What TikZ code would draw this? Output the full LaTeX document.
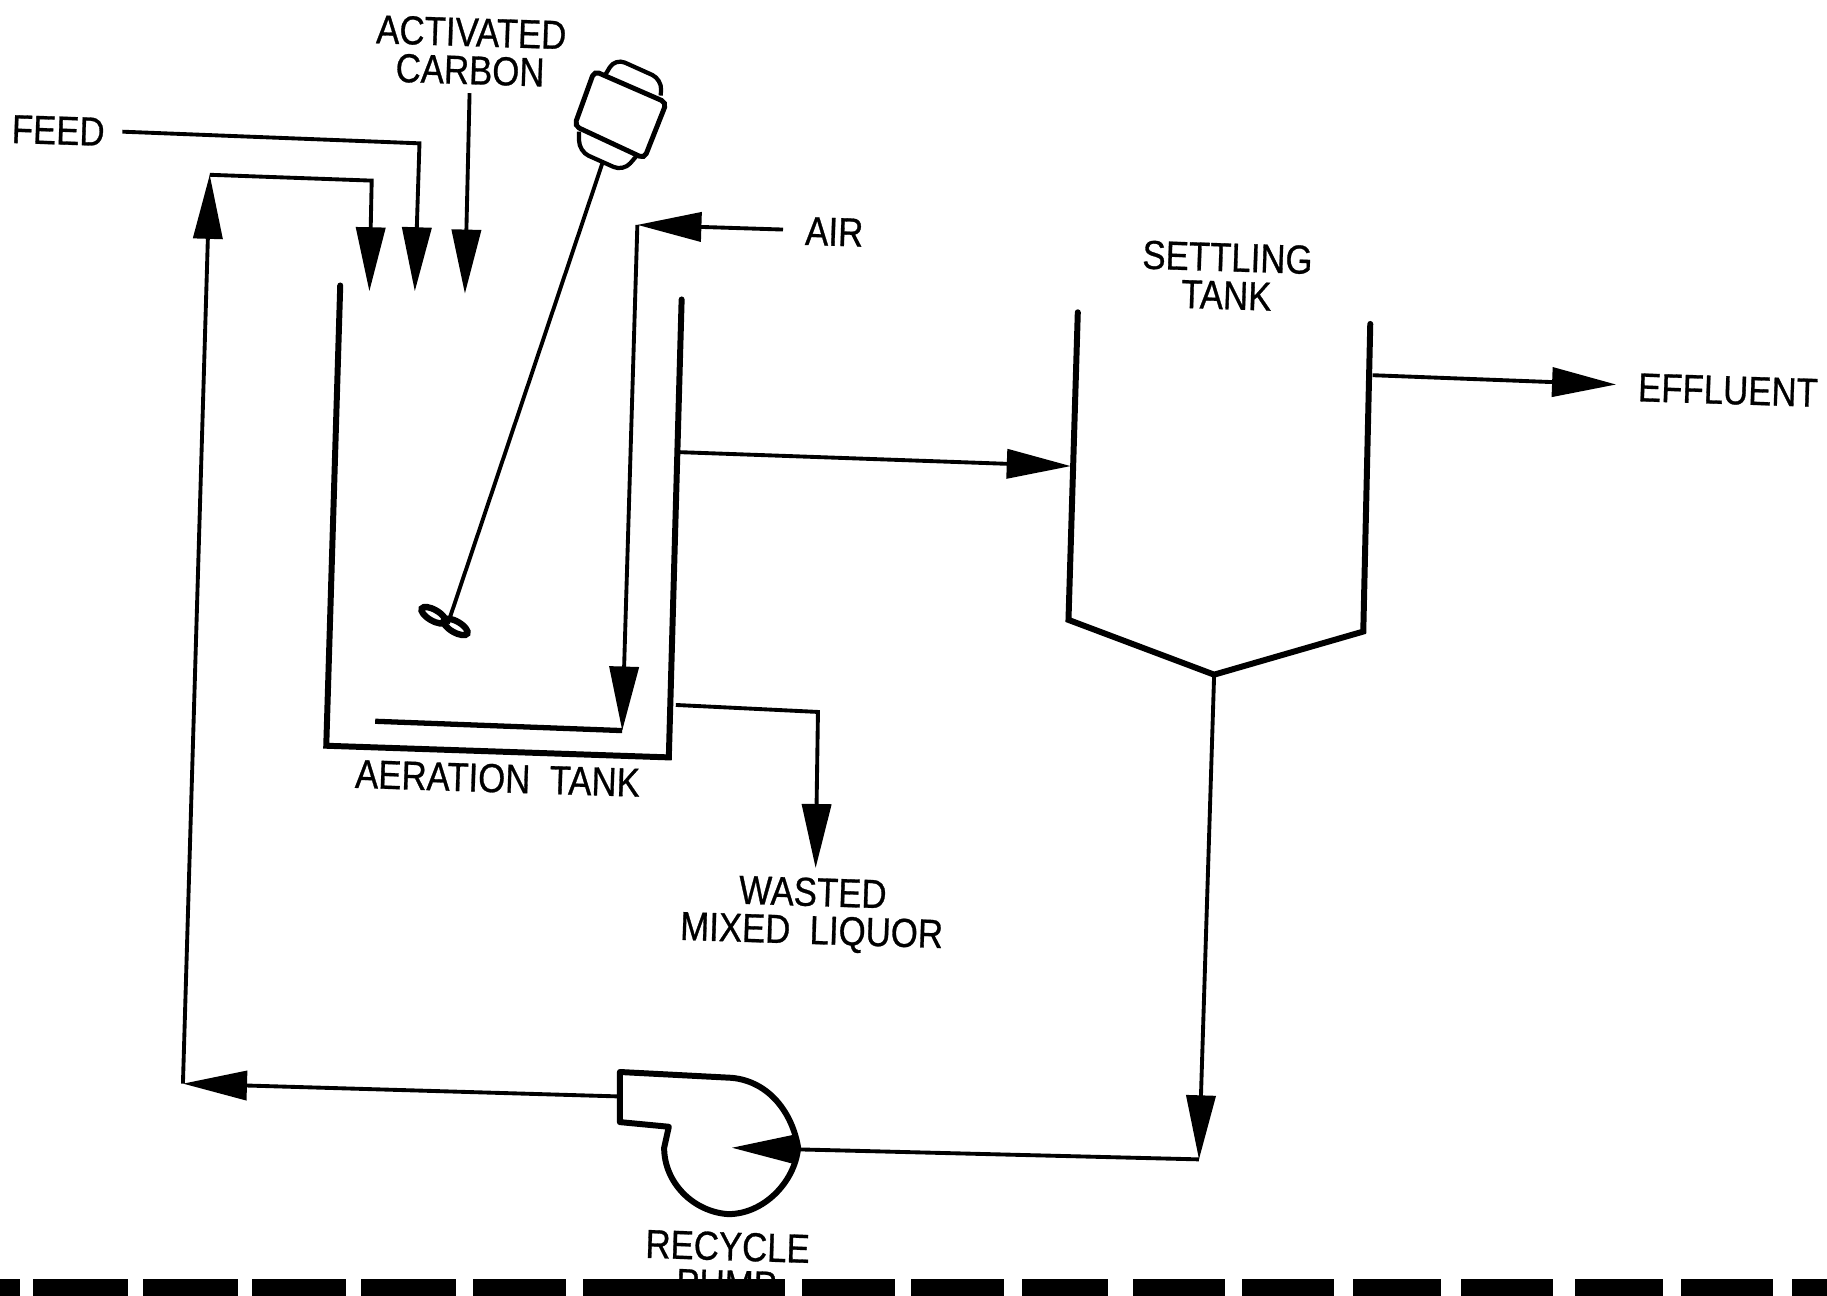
\documentclass[tikz,border=0pt]{standalone}
\usepackage{fontspec}
\setmainfont[FakeStretch=0.86,FakeBold=0.7]{Liberation Sans}
\usepackage{tikz}
\usetikzlibrary{arrows.meta,shapes.geometric}

\begin{document}
\begin{tikzpicture}[
    x=0.01165cm,y=-0.01165cm,
    label/.style={font=\fontsize{11.5}{10.8}\selectfont,align=center,rotate=-1.8,inner sep=0pt},
    pipe/.style={line width=1.1pt},
    wall/.style={line width=1.7pt,line cap=round},
    flow/.style={pipe,-{Triangle[length=0.64cm,width=0.29cm]}},
    blade/.style={draw,ellipse,line width=1.8pt,rotate=-30,minimum width=0.27cm,minimum height=0.11cm,inner sep=0pt},
    bar/.style={fill=black}
  ]
    \useasboundingbox (0,0) rectangle (1568,1112);
    \foreach \xa/\xb in {0/17,28/110,123/204,216/297,310/391,406/486,500/674,688/768,782/862,877/951,
      972/1051,1066/1145,1161/1237,1254/1333,1352/1427,1443/1522,1538/1568}
      \fill[bar] (\xa,1098) rectangle (\xb,1112);

    \node[label] (feedlbl) at (50,112) {FEED};
    \node[label] (carbonlbl) at (404,44) {ACTIVATED\\CARBON};
    \node[label] (airlbl) at (716,199) {AIR};
    \node[label] (settlelbl) at (1053,237) {SETTLING\\TANK};
    \node[label] (efflbl) at (1483,335) {EFFLUENT};
    \node[label] (aerlbl) at (427,668) {AERATION\ \ TANK};
    \node[label] (wastelbl) at (697,785) {WASTED\\MIXED\ \ LIQUOR};
    \node[label] (pumplbl) at (624,1086) {RECYCLE\\PUMP};

    \coordinate (feedstart) at (105,113);
    \coordinate (feedbend) at (360,123);
    \coordinate (feedend) at (356,250);
    \coordinate (carbonstart) at (403,80);
    \coordinate (carbonend) at (399,252);
    \coordinate (recyclelow) at (157,930);
    \coordinate (recycletop) at (180,150);
    \coordinate (recyclebend) at (319,155);
    \coordinate (recycleend) at (317,250);
    \coordinate (airstart) at (672,197);
    \coordinate (airbend) at (547,193);
    \coordinate (airlow) at (534,627);
    \coordinate (airend) at (322,619);
    \coordinate (aerA) at (292,245);
    \coordinate (aerB) at (280,640);
    \coordinate (aerC) at (574,650);
    \coordinate (aerD) at (585,257);
    \coordinate (overstart) at (582,388);
    \coordinate (setA) at (925,268);
    \coordinate (setB) at (917,532);
    \coordinate (setC) at (1042,579);
    \coordinate (setD) at (1170,542);
    \coordinate (setE) at (1176,278);
    \coordinate (overend) at (919,400);
    \coordinate (effstart) at (1178,322);
    \coordinate (effend) at (1387,330);
    \coordinate (wastestart) at (580,605);
    \coordinate (wastebend) at (702,611);
    \coordinate (wasteend) at (700,745);
    \coordinate (underbend) at (1029,995);
    \coordinate (pumpin) at (628,985);
    \coordinate (pumpout) at (532,941);
    \coordinate (shafttop) at (517,140);

    \node[blade] (bladea) at (372,528) {};
    \node[blade] (bladeb) at (391,538) {};

    \draw[wall] (aerA) -- (aerB) -- (aerC) -- (aerD);
    \draw[wall] (setA) -- (setB) -- (setC) -- (setD) -- (setE);

    \draw[line width=1.4pt,rounded corners=1.5pt] (510,61) -- (572,88) -- (553,136) -- (493,108) -- cycle;
    \draw[line width=1.2pt,rounded corners=3pt] (519,65) -- (528,50) -- (568,68) -- (567,82);
    \draw[line width=1.2pt,rounded corners=3pt] (497,113) -- (497,130) -- (535,147) -- (547,133);
    \draw[pipe] (shafttop) -- (bladea.east);

    \draw[flow] (feedstart) -- (feedbend) -- (feedend);
    \draw[flow] (carbonstart) -- (carbonend);
    \draw[flow] (pumpout) -- (recyclelow);
    \draw[flow] (recyclelow) -- (recycletop);
    \draw[flow] (recycletop) -- (recyclebend) -- (recycleend);
    \draw[flow] (airstart) -- (airbend);
    \draw[flow] (airbend) -- (airlow);
    \draw[pipe,line width=1.5pt] (airlow) -- (airend);
    \draw[flow] (overstart) -- (overend);
    \draw[flow] (effstart) -- (effend);
    \draw[flow] (wastestart) -- (wastebend) -- (wasteend);
    \draw[flow] (setC) -- (underbend);
    \draw[flow] (underbend) -- (pumpin);

    \draw[wall,line join=round] (pumpout) -- (532,920) -- (628,925)
      .. controls (660,928) and (680,955) .. (685,985)
      .. controls (682,1015) and (655,1042) .. (625,1042)
      .. controls (595,1040) and (570,1015) .. (570,985)
      -- (574,967) -- (532,963) -- (pumpout);
\end{tikzpicture}
\end{document}
